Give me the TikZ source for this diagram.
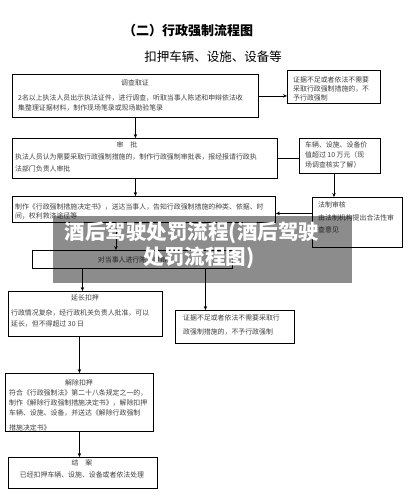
\documentclass[tikz,border=0pt]{standalone}
\usepackage{fontspec}
\setmainfont{Noto Sans CJK SC}
\usetikzlibrary{arrows.meta}
\begin{document}
\begin{tikzpicture}[x=1pt,y=-1pt,
  box/.style={draw, line width=0.9pt, inner sep=0pt, anchor=north west},
  txt/.style={font=\fontsize{6.9}{8}\selectfont, text=black!75, inner sep=0pt, anchor=west},
  hd/.style={font=\fontsize{6.9}{8}\selectfont, text=black!75, inner sep=0pt},
  arr/.style={line width=0.7pt, -{Stealth[length=4pt,width=3.5pt]}},
  ln/.style={line width=0.7pt},
  wm/.style={font=\fontsize{20.5}{22}\bfseries\selectfont, text=white, inner sep=0pt}]
\useasboundingbox (0,0) rectangle (407,500);
\fill[white] (0,0) rectangle (407,500);
% titles
\node[font=\fontsize{13}{15}\bfseries\selectfont, inner sep=0pt] (title) at (188,31) {（二）行政强制流程图};
\node[font=\fontsize{12.5}{14}\selectfont, inner sep=0pt] (subtitle) at (213,57) {扣押车辆、设施、设备等};
% boxes
\node[box, minimum width=246pt, minimum height=43pt] (b1) at (12,74) {};
\node[box, minimum width=93pt, minimum height=33pt] (r1) at (287,70) {};
\node[box, minimum width=265pt, minimum height=40pt] (b2) at (12,138) {};
\node[box, minimum width=81pt, minimum height=35pt] (r2) at (299,138) {};
\node[box, minimum width=263pt, minimum height=26pt] (b3) at (12,196) {};
\node[box, minimum width=90pt, minimum height=50pt] (r3) at (312,197) {};
\node[box, minimum width=200pt, minimum height=18pt] (b4) at (32,250) {};
\node[box, minimum width=154pt, minimum height=45pt] (b5) at (8,291) {};
\node[box, minimum width=119pt, minimum height=33pt] (r5) at (175,310) {};
\node[box, minimum width=148pt, minimum height=58pt] (b6) at (5,373) {};
\node[box, minimum width=149pt, minimum height=31pt] (b7) at (8,457) {};
% texts
\node[hd] (t1h) at (135,83) {调查取证};
\node[txt] (t1a) at (18,98) {2名以上执法人员出示执法证件，进行调查，听取当事人陈述和申辩依法收};
\node[txt] (t1b) at (18,108) {集整理证据材料，制作现场笔录或现场勘验笔录};
\node[txt] (r1a) at (293,80) {证据不足或者依法不需要};
\node[txt] (r1b) at (293,89) {采取行政强制措施的，不};
\node[txt] (r1c) at (293,98) {予行政强制};
\node[hd] (t2h) at (127,145) {审\hspace{1em}批};
\node[txt] (t2a) at (15,157) {执法人员认为需要采取行政强制措施的，制作行政强制审批表，报经报请行政执};
\node[txt] (t2b) at (15,169) {法部门负责人审批};
\node[txt] (r2a) at (305,145) {车辆、设施、设备价};
\node[txt] (r2b) at (305,155) {值超过 10 万元（现};
\node[txt] (r2c) at (305,165) {场调查核实了解）};
\node[txt] (t3a) at (15,207) {制作《行政强制措施决定书》，送达当事人，告知行政强制措施的种类、依据、时};
\node[txt] (t3b) at (15,216) {间，权利救济途径等};
\node[txt] (r3a) at (318,205) {法制审核};
\node[txt] (r3b) at (318,218) {由法制机构提出合法性审};
\node[txt] (r3c) at (318,230) {查意见};
\node[hd] (t4) at (b4.center) {对当事人进行陈述申辩};
\node[hd] (t5h) at (85,298) {延长扣押};
\node[txt] (t5a) at (11,313) {行政情况复杂，经行政机关负责人批准，可以};
\node[txt] (t5b) at (11,324) {延长，但不得超过 30 日};
\node[txt] (r5a) at (183,318) {证据不足或者依法不需要采取行};
\node[txt] (r5b) at (183,332) {政强制措施的，不予行政强制};
\node[hd] (t6h) at (79,383) {解除扣押};
\node[txt] (t6a) at (9,393) {符合《行政强制法》第二十八条规定之一的，};
\node[txt] (t6b) at (9,403) {制作《解除行政强制措施决定书》，解除扣押};
\node[txt] (t6c) at (9,413) {车辆、设施、设备，并送达《解除行政强制};
\begin{scope}
\clip (b6.north west) rectangle (b6.south east);
\node[txt] (t6d) at (9,428) {措施决定书》};
\end{scope}
\node[hd] (t7h) at (82,463) {结\hspace{1em}案};
\node[hd] (t7a) at (82,475) {已经扣押车辆、设施、设备或者依法处理};
% connectors
\draw[arr] (b1.east) -- (b1.east -| r1.west);
\draw[arr] (b1.south) -- (b1.south |- b2.north);
\draw[ln] (b2.east) -- (b2.east -| r2.west);
\draw[arr] ([xshift=35pt]r2.south west) -- ([xshift=35pt]r2.south west |- r3.north);
\draw[arr] ([yshift=9pt]r3.west) -- ([yshift=9pt]r3.west -| b3.east);
\draw[arr] (b1.south |- b2.south) -- (b1.south |- b3.north);
\draw[arr] ([xshift=-28pt]b3.south) -- ([xshift=-28pt]b3.south |- b4.north);
\draw[arr] ([xshift=-50pt]b4.south) -- ([xshift=-50pt]b4.south |- b5.north);
\draw[arr] ([xshift=73pt]b4.south) -- ([xshift=73pt]b4.south |- r5.north);
\draw[arr] ([xshift=-6pt]b5.south) -- ([xshift=-6pt]b5.south |- b6.north);
\draw[arr] (b6.south) -- (b6.south |- b7.north);
% watermark banner
\fill[black, opacity=0.45] (53,216) rectangle (352,283);
\node[wm] (wm1) at (192,233) {酒后驾驶处罚流程(酒后驾驶};
\node[wm] (wm2) at (199,258) {处罚流程图)};
\end{tikzpicture}
\end{document}
